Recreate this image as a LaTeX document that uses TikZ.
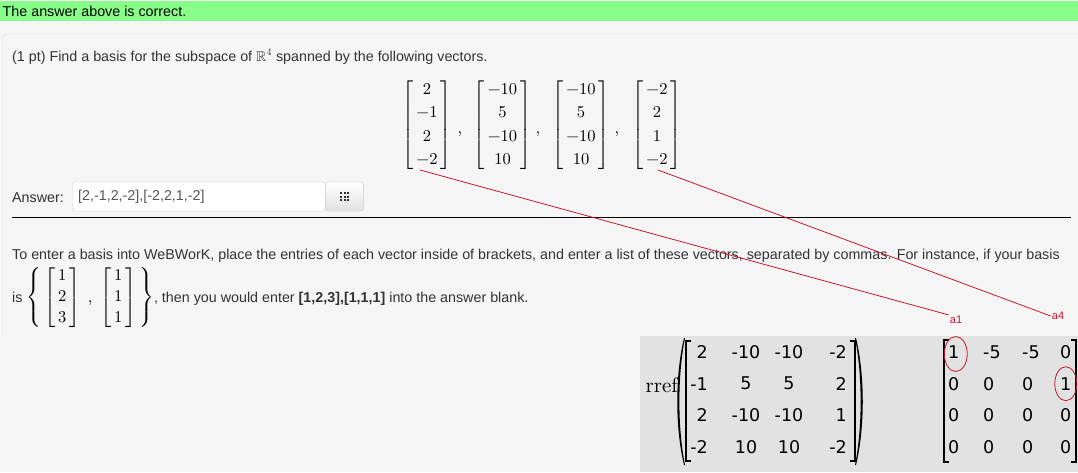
\documentclass[tikz,border=0pt]{standalone}
\usepackage{amsmath,amssymb}
\usepackage{fontspec}
\usepackage{xcolor}
\usepackage{tikz}
\usetikzlibrary{positioning}
\newfontfamily\arialfont{Liberation Sans}
\newfontfamily\mapledigits{DejaVu Sans}
\newfontfamily\cmfont{lmroman10-regular.otf}
\definecolor{pagebg}{RGB}{245,245,245}
\definecolor{okgreen}{RGB}{136,255,136}
\definecolor{panelline}{RGB}{224,224,224}
\definecolor{textgray}{RGB}{51,51,51}
\definecolor{inputgray}{RGB}{85,85,85}
\definecolor{boxgray}{RGB}{204,204,204}
\definecolor{btngray}{RGB}{226,226,226}
\definecolor{maplegray}{RGB}{226,226,226}
\definecolor{linered}{RGB}{196,24,48}
\newcommand{\wwvec}[2][1.18]{\def\arraystretch{#1}\setlength{\tabcolsep}{3pt}%
  \left[\begin{tabular}{c}\cmfont#2\end{tabular}\right]}

\begin{document}
\begin{tikzpicture}[x=1pt, y=-1pt,
  plain/.style={font=\arialfont\fontsize{14.3}{17}\selectfont, text=textgray, inner sep=0, anchor=base west},
  vec/.style={font=\cmfont\fontsize{16.5}{19.8}\selectfont, text=black, inner sep=0},
  cell/.style={font=\mapledigits\fontsize{17.5}{21}\selectfont, inner sep=0},
  tag/.style={font=\arialfont\fontsize{11}{13}\selectfont, text=linered, inner sep=1},
  pointer/.style={draw=linered, line width=0.8},
  ring/.style={draw=linered, line width=0.8},
  brak/.style={line width=1.3}]
\useasboundingbox (0,0) rectangle (1078,472);
\fill[pagebg] (0,0) rectangle (1078,472);
% banner
\fill[okgreen] (0,1) rectangle (1078,21);
\node[plain, text=black] (banner) at (2.5,16) {The answer above is correct.};
% problem panel
\draw[panelline, rounded corners=4] (2.5,336) -- (2.5,34.5) -- (1080,34.5);
\node[plain] (question) at (12,61) {(1 pt) Find a basis for the subspace of $\mathbb{R}^4$ spanned by the following vectors.};
\node[vec] (v1) at (427,125) {$\wwvec{2\\−1\\2\\−2}$};
\node[vec] (v2) at (502.5,125) {$\wwvec{−10\\5\\−10\\10}$};
\node[vec] (v3) at (581,125) {$\wwvec{−10\\5\\−10\\10}$};
\node[vec] (v4) at (657,125) {$\wwvec{−2\\2\\1\\−2}$};
\node[vec, anchor=base] (c1) at (460,133) {,};
\node[vec, anchor=base] (c2) at (538,133) {,};
\node[vec, anchor=base] (c3) at (617,133) {,};
% answer field
\node[plain] (anslabel) at (12,202) {Answer:};
\node[plain, anchor=west, text=inputgray, draw=boxgray, fill=white, rounded corners=3,
  minimum height=29, text width=241, inner xsep=6, align=left] (answer) at (72,196.5) {[2,-1,2,-2],[-2,2,1,-2]};
\node[draw=boxgray, top color=white, bottom color=btngray, rounded corners=3,
  minimum width=38, minimum height=29, inner sep=0, right=0pt of answer] (grid) {};
\foreach \i in {-1,0,1}
  \foreach \j in {-1,0,1}
    \fill[textgray] ([shift={(\i*3.6-1.1,\j*3.1-1)}]grid.center) rectangle ++(2.2,2);
\draw[black, line width=1] (12,217.5) -- (1071,217.5);
% hint
\node[plain] (hint) at (12,259) {To enter a basis into WeBWorK, place the entries of each vector inside of brackets, and enter a list of these vectors, separated by commas. For instance, if your basis};
\node[plain] (example) at (12,302) {is {\cmfont\fontsize{16.5}{19.8}\selectfont\color{black}%
  $\left\{\,\wwvec[1.06]{1\\2\\3}\;\text{,}\;\wwvec[1.06]{1\\1\\1}\,\right\}$}, then you would enter \textbf{[1,2,3],[1,1,1]} into the answer blank.};
% rref picture
\fill[maplegray] (640,336) rectangle (1078,472);
\node[font=\cmfont\fontsize{21}{25}\selectfont, anchor=east, inner sep=0] (rref) at (678,385) {rref};
\fill (684,338) .. controls (675,375) and (675,428) .. (684,465) -- (685,465)
  .. controls (677.5,428) and (677.5,375) .. (685,338) -- cycle;
\fill (856,338) .. controls (865,375) and (865,428) .. (856,465) -- (855,465)
  .. controls (862.5,428) and (862.5,375) .. (855,338) -- cycle;
\draw[brak] (691,341) -- (686,341) -- (686,461) -- (691,461);
\draw[brak] (850,341) -- (855,341) -- (855,461) -- (850,461);
\draw[brak] (949,340) -- (944,340) -- (944,462) -- (949,462);
\draw[brak] (1071,340) -- (1076,340) -- (1076,462) -- (1071,462);
\foreach \a/\b/\c/\d [count=\i] in {2/-10/-10/-2, -1/5/5/2, 2/-10/-10/1, -2/10/10/-2} {
  \node[cell, anchor=east] (A-\i-1) at (708,320.3+31.7*\i) {\a};
  \node[cell] (A-\i-2) at (746,320.3+31.7*\i) {\b};
  \node[cell] (A-\i-3) at (789,320.3+31.7*\i) {\c};
  \node[cell, anchor=east] (A-\i-4) at (847,320.3+31.7*\i) {\d};
}
\foreach \a/\b/\c/\d [count=\i] in {1/-5/-5/0, 0/0/0/1, 0/0/0/0, 0/0/0/0} {
  \node[cell, anchor=west] (B-\i-1) at (948,320.3+31.7*\i) {\a};
  \node[cell, anchor=west] (B-\i-2) at (983,320.3+31.7*\i) {\b};
  \node[cell, anchor=west] (B-\i-3) at (1022,320.3+31.7*\i) {\c};
  \node[cell, anchor=west] (B-\i-4) at (1060,320.3+31.7*\i) {\d};
}
\draw[ring] ([shift={(2,2)}]B-1-1) ellipse [x radius=11.5pt, y radius=17.5pt];
\draw[ring] (B-2-4) ellipse [x radius=11pt, y radius=17pt];
% pointers
\coordinate (v1tip) at (420,170);
\coordinate (v4tip) at (658,170);
\node[tag] (a1) at (956,320) {a1};
\node[tag] (a4) at (1058,316) {a4};
\draw[pointer] (v1tip) -- (a1.north west);
\draw[pointer] (v4tip) -- (a4.west);
\end{tikzpicture}
\end{document}
